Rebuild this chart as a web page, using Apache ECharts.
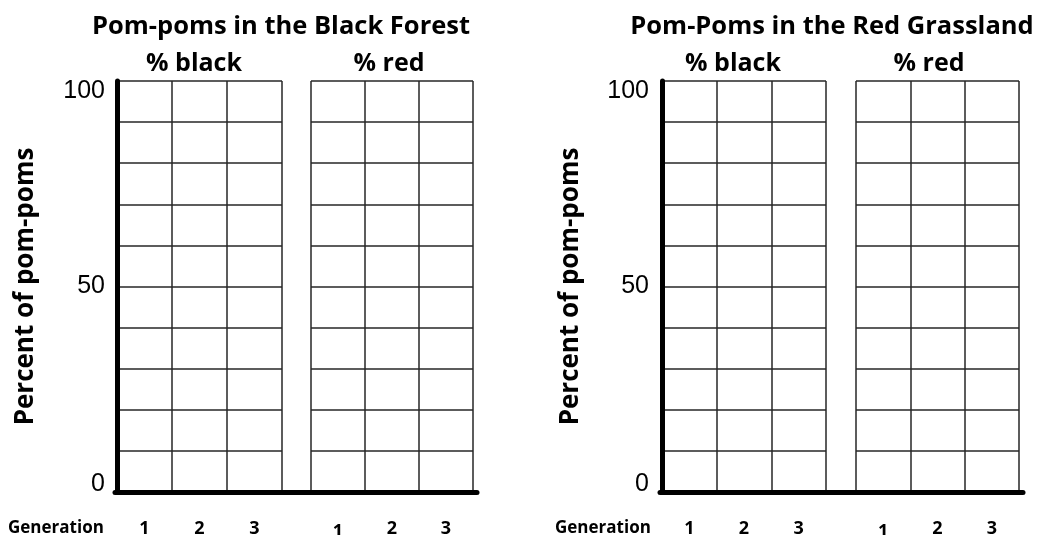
<!DOCTYPE html>
<html>
<head>
<meta charset="utf-8">
<script src="https://cdn.jsdelivr.net/npm/echarts@6/dist/echarts.min.js"></script>
<style>html,body{margin:0;padding:0;background:#fff}#c{width:1039px;height:535px}</style>
</head>
<body>
<div id="c"></div>
<script>
// ---- data ----
const chartTitles = ['Pom-poms in the Black Forest', 'Pom-Poms in the Red Grassland'];
const blockTitles = ['% black', '% red'];
const generations = ['1', '2', '3'];
const yMin = 0, yMax = 100, yStep = 10;
const yTickLabels = [0, 50, 100];
const yAxisName = 'Percent of pom-poms';
const xAxisName = 'Generation';

// ---- layout ----
const TOP = 81, H = 411;
const panels = [
  { blocks: [[117, 165], [311, 162]], baseLeft: 115, baseRight: 477,
    titleX: 281, subX: [194, 389], genX: 8, yLabelMargin: 12 },
  { blocks: [[662, 164], [856, 163]], baseLeft: 660, baseRight: 1023,
    titleX: 832, subX: [733, 929], genX: 555, yLabelMargin: 13 }
];
const BOLD = 'Open Sans';
const gridLine = { color: '#262626', width: 1.5 };
const numFont = { color: '#000', fontFamily: 'Liberation Sans', fontSize: 25 };

const grid = [], xAxis = [], yAxis = [], title = [];
let gi = 0;
panels.forEach((p, pi) => {
  // baseline (thick x axis line across both blocks)
  grid.push({ left: p.baseLeft, top: TOP, width: p.baseRight - p.baseLeft, height: H, outerBoundsMode: 'none', containLabel: false });
  xAxis.push({ gridIndex: gi, type: 'value', min: 0, max: 1, axisLine: { show: true, onZero: false, lineStyle: { color: '#000', width: 5 } },
    axisTick: { show: false }, axisLabel: { show: false }, splitLine: { show: false }, z: 5 });
  yAxis.push({ gridIndex: gi, type: 'value', min: 0, max: 1, show: false });
  gi++;
  p.blocks.forEach((b, bi) => {
    grid.push({ left: b[0], top: TOP, width: b[1], height: H, outerBoundsMode: 'none', containLabel: false });
    xAxis.push({
      gridIndex: gi, type: 'category', boundaryGap: true,
      data: generations.map((g, k) => (bi === 1 && k === 0) ? { value: g, textStyle: { padding: [3, 0, 0, 0] } } : g),
      axisLine: { show: false }, axisTick: { show: false },
      axisLabel: { color: '#000', fontFamily: BOLD, fontWeight: 'bold', fontSize: 18, margin: 28, interval: 0 },
      splitLine: { show: true, interval: 0, lineStyle: gridLine }
    });
    const first = bi === 0;
    yAxis.push({
      gridIndex: gi, type: 'value', min: yMin, max: yMax, interval: yStep,
      axisLine: { show: first, lineStyle: { color: '#000', width: 5 } },
      axisTick: { show: false },
      axisLabel: Object.assign({
        show: first, margin: p.yLabelMargin,
        formatter: v => v === yMin ? '{lo|' + v + '}' : v === yMax ? '{hi|' + v + '}' : (yTickLabels.indexOf(v) >= 0 ? String(v) : ''),
        rich: {
          lo: Object.assign({ padding: [0, 0, 16, 0] }, numFont),
          hi: Object.assign({ padding: [20, 0, 0, 0] }, numFont)
        }
      }, numFont),
      splitLine: { show: true, lineStyle: gridLine },
      name: first ? yAxisName : '', nameLocation: 'middle', nameRotate: 90, nameGap: 78,
      nameTextStyle: { color: '#000', fontFamily: BOLD, fontWeight: 'bold', fontSize: 26 }
    });
    gi++;
  });
  title.push({ text: chartTitles[pi], left: p.titleX, top: 14, padding: 0, textAlign: 'center',
    textStyle: { color: '#000', fontFamily: BOLD, fontWeight: 'bold', fontSize: 25.5 } });
  blockTitles.forEach((t, k) => title.push({ text: t, left: p.subX[k], top: 51, padding: 0, textAlign: 'center',
    textStyle: { color: '#000', fontFamily: BOLD, fontWeight: 'bold', fontSize: 25 } }));
  title.push({ text: xAxisName, left: p.genX, top: 520, padding: 0,
    textStyle: { color: '#000', fontFamily: BOLD, fontWeight: 'bold', fontSize: 17 } });
});

const chart = echarts.init(document.getElementById('c'), null, { renderer: 'canvas' });
chart.setOption({ animation: false, backgroundColor: '#fff', title, grid, xAxis, yAxis, series: [] });
</script>
</body>
</html>
